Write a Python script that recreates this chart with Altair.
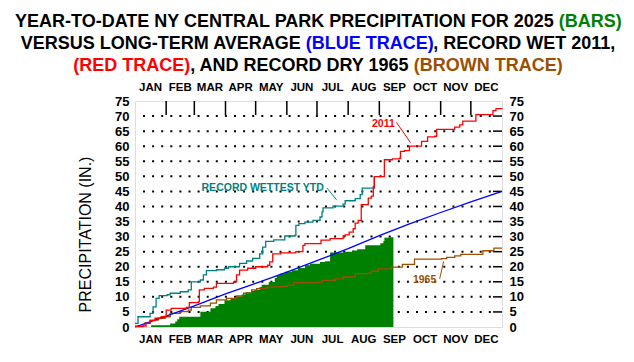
import altair as alt
import pandas as pd

# ---------------- data ----------------
MONTHS = ["JAN", "FEB", "MAR", "APR", "MAY", "JUN", "JUL", "AUG", "SEP", "OCT", "NOV", "DEC"]
MONTH_START = [0, 31, 59, 90, 120, 151, 181, 212, 243, 273, 304, 334, 365]
Y_TICKS = list(range(0, 80, 5))
GRID_LEVELS = list(range(5, 75, 5))

# long-term average (blue)
AVG_DAY = [0, 31, 59, 90, 120, 151, 181, 212, 243, 273, 304, 334, 365]
AVG_VAL = [0, 3.6, 7.0, 11.0, 14.5, 18.2, 22.0, 26.0, 30.3, 34.2, 38.0, 41.5, 45.0]

# 2025 year-to-date (green bars)
Y25_DAY = [16, 35, 40, 42, 44, 65, 75, 80, 83, 89, 95, 101, 106, 110, 116, 119, 124, 126,
           133, 139, 141, 144, 149, 156, 162, 169, 174, 184, 189, 194, 209, 216, 221, 229,
           244, 247, 248, 252, 257]
Y25_VAL = [0.6, 1.2, 1.8, 2.6, 3.4, 5.1, 6.2, 7.0, 7.6, 8.9, 9.6, 10.2, 10.8, 11.5, 12.0, 12.3,
           13.3, 14.0, 14.9, 16.3, 17.2, 17.7, 18.3, 18.8, 19.6, 20.5, 21.0, 21.6, 21.8, 24.7,
           25.0, 25.4, 25.8, 27.1, 27.8, 28.5, 29.6, 29.8, 29.8]

# record wet year 2011 (red)
WET_DAY = [0, 8, 11, 15, 20, 26, 31, 36, 51, 54, 63, 64, 69, 78, 81, 98, 101, 104, 112, 120,
           132, 134, 137, 145, 160, 167, 169, 185, 194, 207, 209, 213, 217, 219, 222, 225, 232,
           235, 237, 238, 248, 256, 263, 264, 268, 273, 285, 291, 298, 300, 318, 323, 326, 339,
           356, 359, 365]
WET_VAL = [0.1, 0.3, 1.2, 2.1, 2.9, 3.4, 5.6, 6.2, 6.5, 8.1, 8.4, 12.3, 12.8, 13.2, 14.5, 15.0,
           17.3, 18.9, 19.5, 20.0, 20.5, 21.6, 24.3, 24.6, 25.0, 27.1, 27.7, 28.8, 29.3, 30.2,
           30.6, 31.5, 32.6, 34.5, 35.4, 40.6, 42.8, 43.4, 46.1, 49.9, 55.5, 55.8, 56.0, 58.3,
           58.5, 60.0, 61.6, 63.1, 63.3, 65.6, 66.3, 67.1, 68.3, 70.5, 71.8, 72.5, 72.6]

# record wettest year-to-date (teal)
REC_DAY = [0, 3, 15, 18, 21, 24, 32, 35, 45, 53, 56, 65, 68, 71, 81, 89, 93, 104, 111, 117,
           124, 127, 130, 138, 149, 159, 160, 163, 169, 177, 184, 186, 187, 197, 207, 209, 219,
           224, 226, 237, 238]
REC_VAL = [1.2, 3.4, 4.5, 6.7, 9.5, 10.4, 10.7, 11.2, 11.7, 12.3, 15.0, 15.6, 17.3, 18.7, 19.0,
           19.5, 20.0, 21.1, 21.9, 22.8, 24.3, 26.5, 28.4, 28.9, 30.2, 30.4, 33.7, 34.3, 34.8,
           35.4, 36.5, 38.2, 39.5, 40.1, 40.8, 41.9, 42.6, 43.9, 46.1, 46.7, 49.9]

# record dry year 1965 (brown)
DRY_DAY = [0, 8, 10, 15, 23, 30, 35, 45, 53, 56, 65, 75, 81, 91, 101, 108, 116, 121, 124, 131,
           136, 143, 149, 152, 158, 182, 186, 199, 207, 219, 232, 235, 242, 255, 266, 278, 305,
           310, 318, 324, 346, 357, 365]
DRY_VAL = [0.3, 0.6, 1.4, 2.3, 2.9, 3.4, 4.5, 5.1, 5.6, 6.5, 7.0, 7.9, 9.0, 9.5, 10.3, 11.2,
           12.3, 12.7, 12.8, 13.2, 13.3, 13.4, 13.6, 13.9, 14.7, 14.9, 15.5, 16.0, 16.6, 17.7,
           17.9, 18.5, 19.3, 19.9, 20.8, 22.5, 22.7, 23.1, 23.6, 24.1, 25.3, 26.2, 26.2]

# annotations (in data units: day of year, inches)
ANN_TEXT = ["2011", "RECORD WETTEST YTD", "1965"]
ANN_DAY = [247, 127, 288]
ANN_VAL = [67.4, 46.1, 15.6]
ANN_COLOR = ["#ff0000", "#008080", "#9c4f00"]
LEAD_DAY = [260, 191, 303]
LEAD_VAL = [67.9, 46.1, 16.0]
LEAD_DAY2 = [274, 200.5, 307]
LEAD_VAL2 = [61.2, 42.2, 21.8]

# title lines: (text, colour); "pivot" index = segment whose edges anchor its neighbours
TITLE_LINES = [
    ["YEAR-TO-DATE NY CENTRAL PARK PRECIPITATION FOR 2025 ", "(BARS)"],
    ["VERSUS LONG-TERM AVERAGE ", "(BLUE TRACE)", ", RECORD WET 2011,"],
    ["(RED TRACE)", ", AND RECORD DRY 1965 ", "(BROWN TRACE)"],
]
TITLE_COLORS = [
    ["black", "#008000"],
    ["black", "#0000ff", "black"],
    ["#ff0000", "black", "#9c4f00"],
]

# ---------------- layout ----------------
W, H = 367, 226
FONT = "Liberation Sans"
GREEN = "#008000"
BLUE = "#0000ff"
RED = "#ff0000"
TEAL = "#008080"
BROWN = "#9c4f00"

AB = {' ': 278, '(': 333, ')': 333, ',': 278, '-': 333, '.': 278}
for d in "0123456789":
    AB[d] = 556
AB.update({'A': 722, 'B': 722, 'C': 722, 'D': 722, 'E': 667, 'F': 611, 'G': 778, 'H': 722,
           'I': 278, 'J': 556, 'K': 722, 'L': 611, 'M': 833, 'N': 722, 'O': 778, 'P': 667,
           'Q': 778, 'R': 722, 'S': 667, 'T': 611, 'U': 722, 'V': 667, 'W': 944, 'X': 667,
           'Y': 667, 'Z': 611})
KERN = {"AT": -74, "TA": -74, "AV": -74, "VA": -74, "AY": -74, "YA": -74, "AW": -56,
        "WA": -56, "LT": -74, "LY": -74, "RT": -18, "RY": -37, "RV": -37, "RW": -18,
        "PA": -55, "FA": -55, "Y ": -37, " Y": -37, " T": -18, "T ": -18, "AC": -18}


def text_w(s, size):
    w = sum(AB.get(c, 600) for c in s)
    w += sum(KERN.get(s[i:i + 2], 0) for i in range(len(s) - 1))
    return w * size / 1000.0


xs = alt.Scale(domain=[0, 365], nice=False, zero=False)
ys = alt.Scale(domain=[0, 75], nice=False, zero=False)


def X(f="day", axis=None):
    return alt.X(f"{f}:Q", scale=xs, axis=axis)


def Y(f="val", axis=None):
    return alt.Y(f"{f}:Q", scale=ys, axis=axis)


layers = []

# grid dots + right inward ticks
grid_df = pd.DataFrame({"val": GRID_LEVELS})
layers.append(
    alt.Chart(grid_df).mark_rule(color="black", strokeWidth=2, strokeDash=[2, 7.1]).encode(
        x=alt.value(8), x2=alt.value(357), y=Y("val")
    )
)
layers.append(
    alt.Chart(grid_df).mark_rule(color="black", strokeWidth=1.5).encode(
        x=alt.value(W - 9), x2=alt.value(W), y=Y("val")
    )
)

# green 2025 area with left y axis and bottom x axis
y25_df = pd.DataFrame({"day": Y25_DAY, "val": Y25_VAL})
layers.append(
    alt.Chart(y25_df).mark_area(color=GREEN, interpolate="step-after", opacity=1).encode(
        x=X("day", axis=alt.Axis(values=MONTH_START[1:-1], labels=False, tickSize=13,
                                 tickWidth=1.5, tickColor="black", domain=False, grid=False,
                                 title=None)),
        y=Y("val", axis=alt.Axis(values=Y_TICKS, ticks=False, tickSize=0, labelPadding=6,
                                 labelFontSize=13, labelFontWeight="bold", labelColor="black",
                                 labelFont=FONT, domain=False, grid=False,
                                 title="PRECIPITATION (IN.)", titleFont=FONT, titleFontSize=16,
                                 titleFontWeight="normal", titleColor="black", titleX=-50,
                                 titleY=H / 2 + 28 - 8, titleAngle=-90, titleBaseline="middle",
                                 titleAlign="center")),
    )
)

# right y axis (labels only)
layers.append(
    alt.Chart(pd.DataFrame({"val": Y_TICKS})).mark_point(opacity=0).encode(
        y=Y("val", axis=alt.Axis(orient="right", values=Y_TICKS, ticks=False, tickSize=0,
                                 labelPadding=7, labelFontSize=13, labelFontWeight="bold",
                                 labelColor="black", labelFont=FONT, domain=False,
                                 grid=False, title=None)),
    )
)

# top month ticks (inward)
layers.append(
    alt.Chart(pd.DataFrame({"day": MONTH_START[1:-1]})).mark_rule(color="black",
                                                                   strokeWidth=1.5).encode(
        x=X("day"), y=alt.value(0), y2=alt.value(14)
    )
)

# traces
for days, vals, col, interp in [
    (REC_DAY, REC_VAL, TEAL, "step-after"),
    (DRY_DAY, DRY_VAL, BROWN, "step-after"),
    (AVG_DAY, AVG_VAL, BLUE, "linear"),
    (WET_DAY, WET_VAL, RED, "step-after"),
]:
    layers.append(
        alt.Chart(pd.DataFrame({"day": days, "val": vals})).mark_line(
            color=col, strokeWidth=1.3, interpolate=interp).encode(x=X("day"), y=Y("val"))
    )

# annotation leaders and labels
lead_df = pd.DataFrame({"day": LEAD_DAY, "val": LEAD_VAL, "day2": LEAD_DAY2,
                        "val2": LEAD_VAL2, "c": ANN_COLOR})
layers.append(
    alt.Chart(lead_df).mark_rule(strokeWidth=1).encode(
        x=X("day"), y=Y("val"), x2="day2:Q", y2="val2:Q", color=alt.Color("c:N", scale=None)
    )
)
ann_df = pd.DataFrame({"day": ANN_DAY, "val": ANN_VAL, "t": ANN_TEXT, "c": ANN_COLOR})
layers.append(
    alt.Chart(ann_df).mark_text(font=FONT, fontSize=10.5, fontWeight="bold",
                                baseline="middle").encode(
        x=X("day"), y=Y("val"), text="t:N", color=alt.Color("c:N", scale=None)
    )
)

# month labels (top and bottom)
mid = [(MONTH_START[i] + MONTH_START[i + 1]) / 2 for i in range(12)]
mon_df = pd.DataFrame({"day": mid, "m": MONTHS})
for yy in (239, -13):
    layers.append(
        alt.Chart(mon_df).mark_text(font=FONT, fontSize=11.5, fontWeight="bold",
                                    color="black", baseline="middle").encode(
            x=X("day"), y=alt.value(yy), text="m:N"
        )
    )

# multi-coloured title: segment 0 is right-aligned on the first boundary,
# segment 1 left-aligned on it, segment 2 left-aligned after segment 1
TSIZE = 18
CENTER_X = 318 - 135
BASES = [27 - 101, 49 - 101, 71 - 101]
for segs, cols, base in zip(TITLE_LINES, TITLE_COLORS, BASES):
    widths = [text_w(s, TSIZE) for s in segs]
    start = CENTER_X - sum(widths) / 2
    b1 = start + widths[0]
    placements = [(segs[0].rstrip(), cols[0], b1 - (widths[0] - text_w(segs[0].rstrip(), TSIZE)),
                   "right"), (segs[1], cols[1], b1, "left")]
    if len(segs) > 2:
        placements.append((segs[2], cols[2], b1 + widths[1], "left"))
    for seg, col, ax, align in placements:
        layers.append(
            alt.Chart(pd.DataFrame({"t": [seg]})).mark_text(
                font=FONT, fontSize=TSIZE, fontWeight="bold", color=col, align=align,
                baseline="alphabetic").encode(
                x=alt.value(ax), y=alt.value(base), text="t:N"
            )
        )

chart = alt.layer(*layers).resolve_axis(y="independent").properties(
    width=W, height=H,
    autosize=alt.AutoSizeParams(type="none"),
    padding={"left": 127, "top": 93, "right": 124, "bottom": 27},
    background="white",
).configure_view(stroke="black", strokeWidth=2).configure(font=FONT)

chart.save("out.html", embed_options={"renderer": "svg", "actions": False})
